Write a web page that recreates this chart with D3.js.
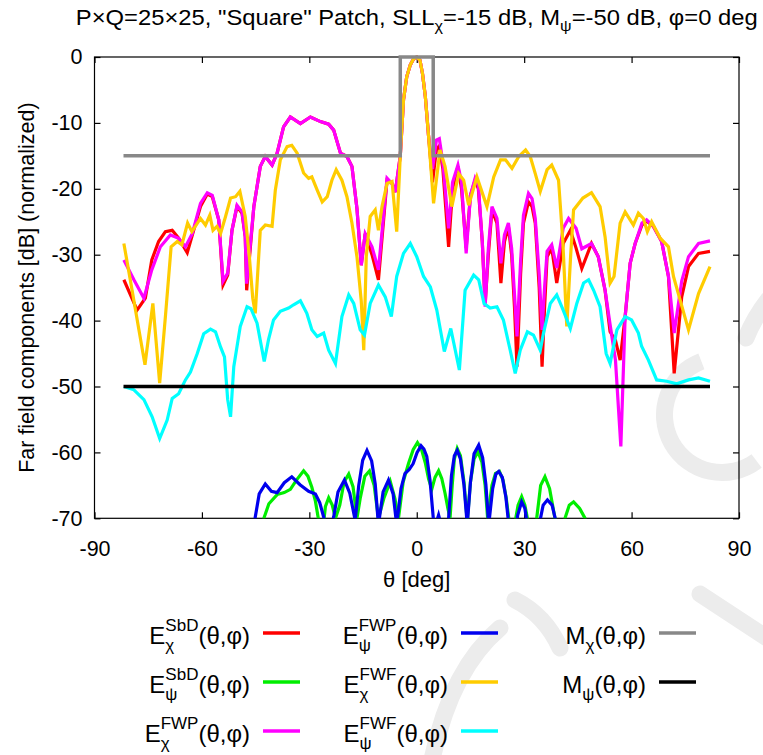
<!DOCTYPE html>
<html>
<head>
<meta charset="utf-8">
<script src="https://cdn.jsdelivr.net/npm/d3@7"></script>
<style>
  html, body { margin: 0; padding: 0; background: #fff; }
  svg { display: block; font-family: "Liberation Sans", Arial, sans-serif; }
</style>
</head>
<body>
<svg id="chart" width="763" height="755"></svg>
<script>
// Far-field cuts, phi = 0 deg: [theta (deg), level (dB, normalized)]
const exSbD = [[-81.8,-33.8],[-78.1,-38.4],[-75.8,-36.6],[-74.0,-30.8],[-72.1,-28.0],[-70.2,-26.5],[-68.3,-26.3],[-66.5,-27.5],[-64.1,-29.7],[-62.3,-26.3],[-60.4,-22.7],[-58.5,-20.8],[-57.1,-21.2],[-55.3,-24.7],[-54.1,-34.6],[-52.8,-33.1],[-51.6,-26.3],[-50.2,-22.7],[-48.8,-23.7],[-47.9,-27.3],[-47.5,-35.4],[-45.5,-22.7],[-43.7,-16.6],[-42.3,-15.1],[-40.4,-16.4],[-39.0,-14.6],[-37.2,-10.6],[-35.3,-9.1],[-32.5,-10.1],[-29.7,-9.1],[-26.9,-9.8],[-24.6,-10.2],[-23.2,-11.1],[-21.3,-14.6],[-19.5,-15.1],[-18.1,-16.6],[-16.7,-23.0],[-15.5,-31.6],[-14.4,-26.8],[-12.5,-30.0],[-10.7,-33.8],[-8.3,-18.7],[-6.9,-19.2],[-6.0,-20.5],[-4.6,-15.0],[-3.7,-6.5],[-2.8,-3.0],[-1.8,-1.2],[-0.9,-0.3],[0.0,0.0],[0.9,-0.5],[1.6,-2.5],[2.4,-6.0],[3.3,-12.0],[4.4,-19.0],[5.5,-14.0],[6.3,-13.5],[7.3,-17.0],[8.9,-28.8],[10.0,-20.0],[11.5,-16.6],[12.5,-20.0],[13.8,-29.0],[15.0,-21.0],[16.3,-18.7],[17.2,-20.0],[18.3,-28.0],[19.1,-37.5],[20.0,-30.0],[21.0,-23.2],[22.4,-25.2],[23.5,-34.3],[24.5,-28.0],[25.6,-25.7],[26.5,-30.0],[27.3,-38.0],[28.0,-47.0],[29.0,-33.0],[29.8,-25.2],[31.2,-22.0],[32.2,-22.7],[33.1,-25.2],[34.2,-35.0],[35.0,-47.0],[35.7,-38.0],[36.4,-30.3],[37.7,-29.0],[39.1,-34.3],[40.9,-28.3],[42.9,-26.3],[44.5,-29.0],[46.1,-32.1],[48.8,-28.3],[50.7,-30.3],[52.6,-35.4],[54.0,-41.7],[55.5,-43.0],[56.8,-46.0],[58.2,-39.4],[59.6,-31.3],[61.0,-28.3],[62.9,-25.5],[64.2,-24.9],[66.1,-25.7],[68.4,-28.0],[70.3,-33.3],[71.9,-48.0],[74.0,-36.4],[75.9,-31.8],[78.7,-29.8],[81.9,-29.5]];

const epSbD = [[-44.0,-76],[-42.7,-70],[-41.3,-67.8],[-39.0,-66.4],[-37.0,-66.1],[-35.3,-65.6],[-33.6,-64.2],[-31.6,-62.8],[-30.4,-63.6],[-29.3,-65.3],[-28.3,-67.4],[-27.5,-70],[-26.5,-73],[-25.5,-68.2],[-24.6,-66.9],[-23.6,-68],[-22.7,-70],[-21.5,-68],[-20.3,-64.5],[-19.0,-63.3],[-17.8,-65.2],[-16.7,-70],[-15.8,-67],[-14.5,-63.6],[-13.2,-62.8],[-11.9,-65],[-10.7,-70],[-9.2,-67],[-7.4,-64.4],[-6.1,-67],[-5.1,-70],[-3.8,-64.5],[-2.3,-61.7],[-1.0,-59.6],[0.2,-58.5],[1.3,-59.5],[2.4,-61.6],[3.3,-64],[4.2,-65.6],[5.1,-63.8],[6.1,-62.8],[7.0,-64],[7.9,-66.2],[8.7,-68.5],[9.3,-70],[9.9,-65],[10.5,-61],[11.3,-59.4],[12.2,-60.5],[13.2,-64.5],[14.1,-70.5],[15.0,-64.5],[16.0,-61],[17.1,-59.9],[18.2,-61.5],[19.1,-65],[19.8,-70],[21.0,-65],[22.0,-63.2],[23.1,-62.9],[24.1,-64.2],[25.0,-67],[25.7,-70],[27.0,-72],[28.3,-68],[29.3,-66.7],[30.2,-68],[30.9,-70],[32.2,-74],[33.5,-70],[34.6,-65],[35.8,-63.7],[37.1,-65.5],[38.6,-70],[40.0,-74],[41.4,-70],[42.6,-68],[43.8,-67.5],[45.5,-68.5],[47.0,-70],[48.5,-72]];

const exFWP = [[-81.8,-30.8],[-79.0,-33.8],[-76.2,-36.6],[-74.0,-32.3],[-71.6,-28.8],[-68.8,-27.0],[-66.5,-27.5],[-64.6,-28.8],[-62.7,-26.8],[-60.4,-22.2],[-58.5,-20.6],[-57.1,-21.0],[-55.3,-24.7],[-54.1,-34.0],[-52.8,-32.8],[-51.6,-26.3],[-50.2,-22.5],[-48.8,-23.5],[-47.9,-27.3],[-47.5,-34.4],[-45.5,-22.7],[-43.7,-16.6],[-42.3,-15.1],[-40.4,-16.4],[-39.0,-14.6],[-37.2,-10.6],[-35.3,-9.1],[-32.5,-10.1],[-29.7,-9.1],[-26.9,-9.8],[-24.6,-10.2],[-23.2,-11.1],[-21.3,-14.6],[-19.5,-15.1],[-18.1,-16.6],[-16.7,-23.0],[-15.5,-31.6],[-14.4,-26.8],[-12.5,-28.8],[-10.7,-32.3],[-8.3,-18.4],[-6.9,-19.2],[-6.0,-20.5],[-4.6,-15.0],[-3.7,-6.5],[-2.8,-3.0],[-1.8,-1.2],[-0.9,-0.3],[0.0,0.0],[0.9,-0.5],[1.6,-2.5],[2.4,-6.0],[3.3,-12.0],[4.4,-17.0],[5.5,-12.6],[6.3,-12.4],[7.3,-16.0],[8.9,-26.0],[10.0,-19.0],[11.5,-16.4],[12.5,-19.0],[13.8,-29.8],[15.0,-21.0],[16.3,-18.4],[17.2,-19.5],[18.3,-28.0],[19.1,-37.9],[20.0,-29.0],[21.0,-22.7],[22.4,-24.5],[23.5,-31.3],[24.5,-27.0],[25.6,-25.2],[26.5,-29.0],[27.3,-36.0],[28.0,-42.4],[29.0,-31.0],[29.8,-24.0],[31.2,-20.7],[32.2,-21.5],[33.1,-24.5],[34.2,-33.0],[35.0,-41.4],[35.7,-35.0],[36.4,-29.5],[37.7,-28.5],[39.1,-32.0],[40.9,-26.0],[42.4,-24.5],[44.5,-26.0],[46.1,-29.1],[48.8,-28.3],[50.7,-30.3],[52.6,-35.4],[54.0,-40.6],[55.5,-46.0],[57.0,-59.1],[58.2,-39.4],[59.6,-31.3],[61.0,-28.3],[62.9,-25.2],[64.2,-24.7],[66.1,-25.7],[68.4,-28.0],[70.3,-33.3],[71.9,-41.9],[74.0,-34.0],[75.9,-30.3],[78.7,-28.3],[81.9,-27.9]];

const epFWP = [[-46.5,-76],[-45.1,-69.8],[-44.0,-66.3],[-42.3,-64.8],[-40.6,-65.9],[-39.0,-66.1],[-37.0,-64.6],[-34.9,-63.7],[-32.6,-64.9],[-30.2,-65.9],[-28.3,-66.3],[-27.1,-67.6],[-26.0,-69.8],[-24.6,-73],[-23.2,-69.8],[-22.0,-66],[-20.2,-64.2],[-18.7,-66.2],[-17.2,-70.3],[-16.2,-65],[-15.1,-61.2],[-13.9,-59.7],[-12.6,-61.3],[-11.6,-64.8],[-10.7,-71],[-9.4,-66],[-7.9,-64.2],[-6.6,-66.3],[-5.6,-71],[-4.4,-65.5],[-3.3,-63.2],[-2.1,-62.6],[-1.0,-61.7],[0.1,-60.0],[1.2,-59.0],[2.0,-59.5],[2.8,-60.6],[3.7,-64.2],[4.7,-70.5],[5.4,-70.8],[6.1,-69.5],[6.8,-71],[7.8,-74],[8.9,-70],[9.7,-63.5],[10.5,-60.5],[11.3,-59.7],[12.2,-61],[13.2,-65],[14.1,-71],[15.0,-64.5],[16.0,-60.2],[17.3,-58.9],[18.4,-60.8],[19.3,-64.8],[20.1,-71],[21.2,-65.5],[22.1,-63.3],[22.9,-62.9],[23.9,-63.8],[24.9,-66.8],[25.7,-71],[27.0,-74],[28.2,-69.5],[29.3,-67.5],[30.2,-68.5],[30.9,-71],[32.5,-76],[34.2,-71],[35.3,-68],[36.5,-67.2],[37.8,-68],[39.1,-71],[40.5,-76]];

const exFWF = [[-81.8,-28.3],[-79.5,-35.4],[-77.6,-41.4],[-75.9,-46.7],[-73.7,-37.4],[-71.8,-49.5],[-70.2,-39.4],[-68.6,-28.8],[-66.9,-28.0],[-65.6,-28.5],[-64.0,-25.2],[-62.8,-26.5],[-60.4,-24.5],[-59.0,-25.5],[-57.8,-24.0],[-56.9,-26.3],[-55.8,-25.7],[-54.8,-26.8],[-53.4,-24.2],[-52.0,-21.4],[-50.6,-21.2],[-49.4,-20.4],[-47.9,-24.2],[-46.8,-30.0],[-45.8,-36.6],[-45.1,-38.9],[-43.7,-26.3],[-42.3,-25.5],[-40.4,-25.7],[-39.5,-20.2],[-38.1,-15.6],[-36.2,-13.6],[-34.9,-13.4],[-33.4,-14.6],[-31.6,-17.6],[-30.2,-18.4],[-29.3,-18.2],[-27.8,-20.2],[-26.4,-22.0],[-25.0,-21.2],[-23.7,-18.7],[-22.5,-17.1],[-20.9,-18.7],[-19.5,-21.2],[-18.1,-25.2],[-16.7,-30.3],[-15.5,-37.0],[-14.8,-44.5],[-14.1,-30.3],[-13.0,-24.2],[-11.6,-23.2],[-10.7,-26.3],[-9.7,-22.7],[-8.3,-19.2],[-6.9,-18.9],[-5.6,-26.5],[-4.6,-15.0],[-3.7,-6.5],[-2.8,-3.0],[-1.8,-1.2],[-0.9,-0.3],[0.0,0.0],[0.9,-0.5],[1.6,-2.5],[2.4,-6.0],[3.3,-12.0],[4.7,-22.2],[6.5,-14.1],[7.9,-16.6],[9.8,-22.7],[11.7,-17.7],[13.1,-18.7],[14.5,-22.5],[16.8,-18.2],[19.6,-22.7],[21.5,-18.2],[23.4,-15.6],[24.8,-15.6],[26.6,-16.9],[28.5,-15.1],[30.4,-14.1],[31.7,-15.1],[33.1,-17.7],[34.5,-20.4],[36.4,-17.1],[37.7,-16.4],[39.6,-18.7],[40.8,-28.0],[41.9,-40.9],[43.0,-30.0],[43.8,-23.2],[46.4,-21.4],[48.8,-20.6],[51.2,-22.7],[52.6,-27.3],[54.0,-34.3],[55.1,-33.3],[56.8,-25.2],[58.2,-23.5],[60.5,-25.5],[61.9,-23.7],[63.3,-24.5],[64.4,-26.5],[65.6,-25.0],[68.0,-27.5],[70.3,-28.8],[71.7,-33.3],[75.9,-41.4],[78.7,-35.9],[81.9,-31.8]];

const epFWF = [[-81.8,-50.0],[-79.0,-50.5],[-76.2,-52.0],[-73.9,-54.6],[-71.8,-57.9],[-69.7,-55.1],[-68.3,-51.8],[-66.5,-51.1],[-64.6,-49.0],[-63.2,-47.8],[-61.3,-45.0],[-59.5,-42.0],[-57.6,-41.3],[-56.2,-41.7],[-54.8,-44.0],[-53.7,-45.5],[-52.8,-52.0],[-52.0,-54.6],[-51.1,-47.0],[-49.3,-40.9],[-47.4,-37.9],[-46.3,-38.2],[-44.6,-40.4],[-42.6,-46.2],[-41.4,-42.9],[-40.0,-39.9],[-38.1,-38.6],[-35.8,-38.1],[-34.4,-37.6],[-32.5,-37.0],[-30.7,-38.9],[-29.3,-41.4],[-27.8,-42.4],[-26.0,-41.9],[-24.6,-44.5],[-22.7,-46.5],[-20.9,-39.4],[-19.0,-36.1],[-17.6,-37.4],[-15.8,-41.4],[-14.6,-42.2],[-13.0,-37.4],[-10.7,-34.6],[-8.8,-36.4],[-7.1,-39.4],[-5.6,-33.3],[-3.7,-29.8],[-1.8,-28.3],[0.0,-30.3],[1.9,-33.3],[3.8,-34.9],[5.6,-38.4],[7.7,-44.7],[9.5,-41.2],[11.9,-47.5],[13.5,-35.4],[15.9,-33.1],[17.3,-33.8],[18.8,-37.4],[20.5,-38.1],[22.4,-37.9],[24.2,-39.9],[26.1,-44.5],[27.5,-48.0],[28.9,-44.5],[30.9,-41.7],[32.6,-42.2],[34.5,-44.5],[35.4,-41.9],[37.3,-37.4],[39.1,-36.1],[40.9,-38.4],[42.9,-41.2],[44.7,-37.4],[46.6,-34.3],[48.0,-33.8],[49.4,-35.4],[51.2,-37.9],[52.9,-45.0],[54.0,-46.5],[55.9,-41.4],[58.2,-39.4],[60.0,-39.9],[61.9,-41.9],[62.8,-43.9],[64.7,-46.0],[67.0,-49.0],[69.8,-49.2],[72.6,-49.6],[75.9,-49.0],[78.7,-48.7],[81.9,-49.2]];

// Mask limits
const maskChi = [[-81.9,-15],[-4.6,-15],[-4.6,0],[4.6,0],[4.6,-15],[81.9,-15]];
const maskPsi = [[-81.9,-50],[81.9,-50]];

// Axis ticks
const xTicks = [-90,-60,-30,0,30,60,90];
const yTicks = [0,-10,-20,-30,-40,-50,-60,-70];

const svg = d3.select("#chart");
const pL = 94.5, pR = 739, pT = 57, pB = 518.3;

const x = d3.scaleLinear().domain([-90, 90]).range([pL, pR]);
const y = d3.scaleLinear().domain([-70, 0]).range([pB, pT]);

// Faint background watermark strokes
const wm = svg.append("g").attr("fill", "#ececec");
const deg = Math.PI / 180;
wm.append("path").attr("transform", "translate(722,415)")
  .attr("d", d3.arc()({ innerRadius: 49, outerRadius: 66, startAngle: 143 * deg, endAngle: 339 * deg }));
const wmLines = wm.append("g").attr("fill", "none").attr("stroke", "#ececec")
  .attr("stroke-width", 17).attr("stroke-linecap", "round");
wmLines.append("path").attr("d", "M746,338 Q754,318 768,300");
wmLines.append("path").attr("d", "M430,770 Q448,672 500,628");
wmLines.append("path").attr("d", "M515,600 Q545,615 560,648");
wmLines.append("path").attr("d", "M700,594 L770,640");

// Title, centred over the plot and stretched to its full span
const title = svg.append("text").attr("text-anchor", "middle")
  .attr("font-size", 22).attr("fill", "#000");
title.append("tspan").text("P\u00d7Q=25\u00d725, \"Square\" Patch, SLL");
title.append("tspan").attr("dy", 6).attr("font-size", 15).text("\u03c7");
title.append("tspan").attr("dy", -6).text("=-15 dB, M");
title.append("tspan").attr("dy", 6).attr("font-size", 15).text("\u03c8");
title.append("tspan").attr("dy", -6).text("=-50 dB, \u03c6=0 deg");
{
  const w = title.node().getComputedTextLength();
  title.attr("transform", `translate(${x(0)},25) scale(${682 / w},1)`);
}

// Frame
svg.append("rect").attr("x", pL).attr("y", pT)
  .attr("width", pR - pL).attr("height", pB - pT)
  .attr("fill", "none").attr("stroke", "#000").attr("stroke-width", 1.2);

const fmt = d => String(d);
const axisStyle = g => {
  g.select(".domain").remove();
  g.selectAll(".tick line").attr("stroke", "#000").attr("stroke-width", 1.2);
  g.selectAll(".tick text").attr("font-size", 21.5).attr("fill", "#000")
    .attr("font-family", "'Liberation Sans', Arial, sans-serif");
};
svg.append("g").attr("transform", `translate(0,${pB})`)
  .call(d3.axisBottom(x).tickValues(xTicks).tickSize(-6).tickPadding(22).tickFormat(fmt))
  .call(axisStyle);
svg.append("g").attr("transform", `translate(0,${pT})`)
  .call(d3.axisTop(x).tickValues(xTicks).tickSize(-6).tickFormat(""))
  .call(axisStyle);
svg.append("g").attr("transform", `translate(${pL},0)`)
  .call(d3.axisLeft(y).tickValues(yTicks).tickSize(-6).tickPadding(12).tickFormat(fmt))
  .call(axisStyle);
svg.append("g").attr("transform", `translate(${pR},0)`)
  .call(d3.axisRight(y).tickValues(yTicks).tickSize(-6).tickFormat(""))
  .call(axisStyle);

// Axis titles
svg.append("text").attr("x", x(0)).attr("y", 587).attr("text-anchor", "middle")
  .attr("font-size", 22).text("\u03b8 [deg]");
svg.append("text").attr("transform", `translate(34,${(pT + pB) / 2}) rotate(-90)`)
  .attr("text-anchor", "middle").attr("font-size", 21.5)
  .text("Far field components [dB] (normalized)");

// Curves
svg.append("defs").append("clipPath").attr("id", "plotArea")
  .append("rect").attr("x", pL).attr("y", pT - 2)
  .attr("width", pR - pL).attr("height", pB - pT + 2);

const line = d3.line().x(d => x(d[0])).y(d => y(d[1]));

const series = [
  { data: exSbD, color: "#ff0000", sup: "SbD", sub: "\u03c7" },
  { data: epSbD, color: "#00ee00", sup: "SbD", sub: "\u03c8" },
  { data: exFWP, color: "#ff00ff", sup: "FWP", sub: "\u03c7" },
  { data: epFWP, color: "#0000ee", sup: "FWP", sub: "\u03c8" },
  { data: exFWF, color: "#ffcc00", sup: "FWF", sub: "\u03c7" },
  { data: epFWF, color: "#00ffff", sup: "FWF", sub: "\u03c8" }
];
const masks = [
  { data: maskChi, color: "#888888", sub: "\u03c7" },
  { data: maskPsi, color: "#000000", sub: "\u03c8" }
];

const plot = svg.append("g").attr("clip-path", "url(#plotArea)");
series.forEach(s => {
  plot.append("path").datum(s.data).attr("d", line)
    .attr("fill", "none").attr("stroke", s.color).attr("stroke-width", 3.2)
    .attr("stroke-linejoin", "miter").attr("stroke-miterlimit", 4);
});
masks.forEach(m => {
  svg.append("path").datum(m.data).attr("d", line)
    .attr("fill", "none").attr("stroke", m.color).attr("stroke-width", 3.5);
});

// Legend
const legend = svg.append("g");
function entry(xRight, yLine, base, sup, sub, color) {
  const g = legend.append("g");
  const fs = 24, small = 17;
  const t0 = g.append("text").attr("x", 0).attr("y", 0).attr("font-size", fs).text(base);
  const w0 = t0.node().getComputedTextLength();
  let ws = 0;
  if (sup) {
    const ts = g.append("text").attr("x", w0).attr("y", -13).attr("font-size", small).text(sup);
    ws = Math.max(ws, ts.node().getComputedTextLength());
  }
  const tb = g.append("text").attr("x", w0).attr("y", 6.5).attr("font-size", small).text(sub);
  ws = Math.max(ws, tb.node().getComputedTextLength());
  const t1 = g.append("text").attr("x", w0 + ws).attr("y", 0).attr("font-size", fs).text("(\u03b8,\u03c6)");
  const total = w0 + ws + t1.node().getComputedTextLength();
  g.attr("transform", `translate(${xRight - total},${yLine + 11})`);
  legend.append("line").attr("x1", xRight + 13).attr("x2", xRight + 50)
    .attr("y1", yLine).attr("y2", yLine).attr("stroke", color).attr("stroke-width", 3.5);
}
const colX = [250, 448, 646];
const rowY = [633, 682, 731];
series.forEach((s, i) => entry(colX[Math.floor(i / 3)], rowY[i % 3], "E", s.sup, s.sub, s.color));
masks.forEach((m, i) => entry(colX[2], rowY[i], "M", null, m.sub, m.color));
</script>
</body>
</html>
